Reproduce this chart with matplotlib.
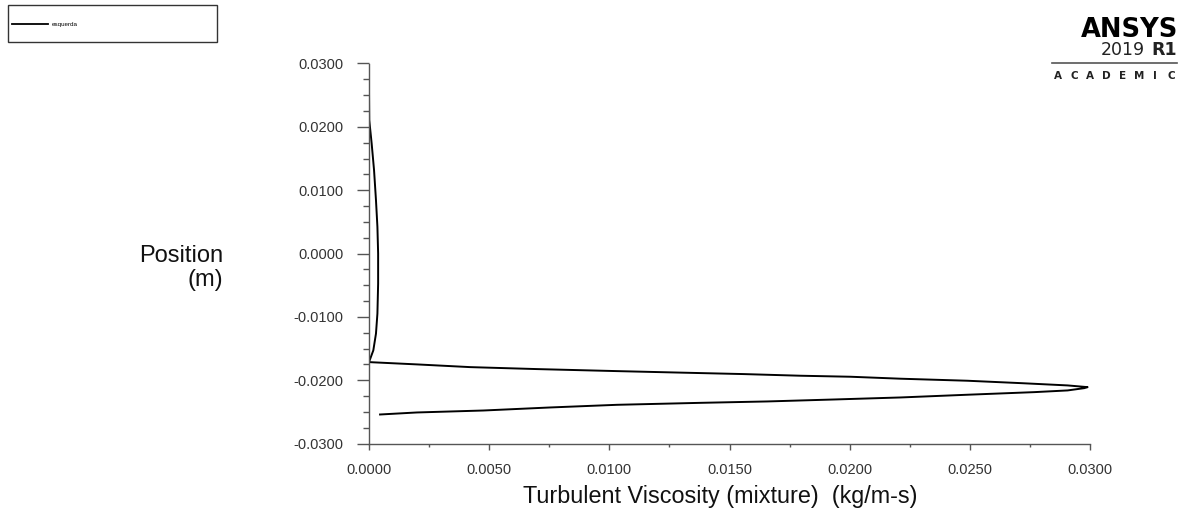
import matplotlib
matplotlib.use("Agg")
import matplotlib.pyplot as plt
from matplotlib.ticker import MultipleLocator, FormatStrFormatter
from matplotlib.patches import Rectangle
from matplotlib.lines import Line2D

# Turbulent viscosity (kg/m-s) along the line "esquerda", ordered along the polyline
viscosity = [0.0, 0.00001, 0.00011, 0.00021, 0.00029, 0.00035, 0.00038, 0.00038,
             0.00035, 0.00029, 0.00018, 0.0,
             0.00199, 0.00421, 0.00699, 0.01032, 0.0131, 0.0156, 0.01796, 0.02004,
             0.02212, 0.0249, 0.02713, 0.02907, 0.0299,
             0.02976, 0.02907, 0.02768, 0.0249, 0.02212, 0.01935, 0.01657, 0.01379,
             0.01032, 0.00754, 0.00476, 0.00199, 0.00046]
position = [0.02583, 0.02108, 0.01739, 0.01316, 0.00843, 0.00421, 0.0, -0.00475,
            -0.00949, -0.01265, -0.01529, -0.01715,
            -0.01751, -0.01794, -0.01825, -0.01857, -0.01882, -0.01904, -0.0193, -0.01946,
            -0.01977, -0.02009, -0.02047, -0.02083, -0.0211,
            -0.02126, -0.02162, -0.02189, -0.0223, -0.02273, -0.02305, -0.02336, -0.02358,
            -0.02389, -0.02431, -0.02479, -0.0251, -0.02542]
series_name = "esquerda"
x_label = "Turbulent Viscosity (mixture)  (kg/m-s)"
y_label_lines = ["Position", "(m)"]
logo_letters = "ACADEMIC"

plt.rcParams['font.family'] = ['Liberation Sans', 'DejaVu Sans']

W, H = 1186, 514
fig = plt.figure(figsize=(W / 100, H / 100), dpi=100)
ax = fig.add_axes([369 / W, 1 - 443.5 / H, 721 / W, 380 / H])
ax.plot(viscosity, position, color='black', lw=1.4)

ax.set_xlim(0, 0.03)
ax.set_ylim(-0.03, 0.03)
ax.xaxis.set_major_locator(MultipleLocator(0.005))
ax.xaxis.set_minor_locator(MultipleLocator(0.0025))
ax.yaxis.set_major_locator(MultipleLocator(0.01))
ax.yaxis.set_minor_locator(MultipleLocator(0.0025))
ax.xaxis.set_major_formatter(FormatStrFormatter('%.4f'))
ax.yaxis.set_major_formatter(FormatStrFormatter('%.4f'))
for s in ['top', 'right']:
    ax.spines[s].set_visible(False)
for s in ['left', 'bottom']:
    ax.spines[s].set_color('#555555')
    ax.spines[s].set_linewidth(1.0)
ax.tick_params(which='both', direction='out', width=1, color='#555555',
               labelsize=10.5, labelcolor='#333333')
ax.tick_params(axis='y', which='major', length=8.6, pad=9.5)
ax.tick_params(axis='y', which='minor', length=4.3)
ax.tick_params(axis='x', which='major', length=4, pad=10)
ax.tick_params(axis='x', which='minor', length=2.5)
ax.set_xlabel(x_label, fontsize=16.8, labelpad=8, color='#111111')
ax.xaxis.set_label_coords((720.5 - 369) / 721, -0.11, transform=ax.transAxes)
ax.xaxis.label.set_va('center')
ax.xaxis.set_label_coords((720.5 - 369) / 721, (443.5 - 497) / 380)

fig.text(223 / W, 1 - 262 / H, y_label_lines[0], fontsize=17, ha='right', va='baseline',
         color='#111111')
fig.text(223 / W, 1 - 286 / H, y_label_lines[1], fontsize=17, ha='right', va='baseline',
         color='#111111')

# legend box
fig.patches.append(Rectangle((8 / W, 1 - 42 / H), 209 / W, 37 / H, transform=fig.transFigure,
                             fill=False, edgecolor='#333333', lw=1))
fig.lines.append(Line2D([12 / W, 48 / W], [1 - 24 / H, 1 - 24 / H], transform=fig.transFigure,
                        color='black', lw=1.3))
fig.text(52 / W, 1 - 24 / H, series_name, fontsize=4.5, va='center', ha='left')

# ANSYS logo
fig.text(1178 / W, 1 - 37 / H, "ANSYS", fontsize=18.5, fontweight='bold', ha='right',
         va='baseline', family=['DejaVu Sans'])
r1 = fig.text(1177 / W, 1 - 55 / H, "R1", fontsize=12.5, ha='right', va='baseline',
              fontweight='bold', color='#222222', family=['DejaVu Sans'])
fig.canvas.draw()
bb = r1.get_window_extent(fig.canvas.get_renderer())
fig.text((bb.x0 - 6) / W, 1 - 55 / H, "2019", fontsize=12.5, ha='right', va='baseline',
         color='#222222', family=['DejaVu Sans'])
fig.lines.append(Line2D([1052 / W, 1177 / W], [1 - 63 / H, 1 - 63 / H], transform=fig.transFigure,
                        color='#555555', lw=1.2))
x_first, x_last = 1058.0, 1171.0
step = (x_last - x_first) / (len(logo_letters) - 1)
for i, ch in enumerate(logo_letters):
    fig.text((x_first + i * step) / W, 1 - 79 / H, ch, fontsize=7.5, ha='center',
             va='baseline', fontweight='bold', color='#222222', family=['DejaVu Sans'])

fig.savefig("out.png", dpi=100)
